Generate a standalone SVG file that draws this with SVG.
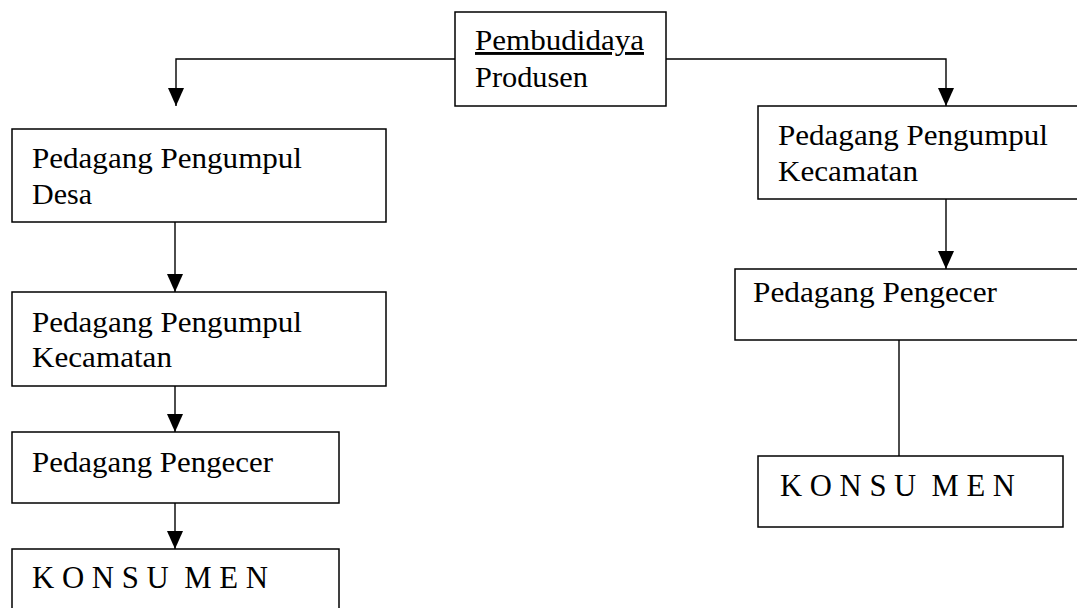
<svg xmlns="http://www.w3.org/2000/svg" width="1077" height="608" viewBox="0 0 1077 608">
<style>
.box{fill:#fff;stroke:#000;stroke-width:1.5}
.t{font-family:"Liberation Serif","Times New Roman",serif;font-size:29px;fill:#000}
.k{font-family:"Liberation Serif","Times New Roman",serif;font-size:31px;fill:#000;white-space:pre}
.c{fill:none;stroke:#000;stroke-width:1.4}
</style>
<defs>
<marker id="arr" viewBox="0 0 18 16" refX="18" refY="8" markerWidth="18" markerHeight="16" markerUnits="userSpaceOnUse" orient="auto">
<path d="M0,0 L18,8 L0,16 z" fill="#000"/>
</marker>
</defs>
<rect width="1077" height="608" fill="#fff"/>
<g id="connectors">
<path class="c" d="M455,59 H176 V106" marker-end="url(#arr)"/>
<path class="c" d="M666,59 H946 V106" marker-end="url(#arr)"/>
<path class="c" d="M175,222 V292" marker-end="url(#arr)"/>
<path class="c" d="M175,386 V432" marker-end="url(#arr)"/>
<path class="c" d="M175,503 V549" marker-end="url(#arr)"/>
<path class="c" d="M946,199 V269" marker-end="url(#arr)"/>
<path class="c" d="M899,340 V456"/>
</g>
<g id="produsen">
<rect class="box" x="455" y="12" width="211" height="94"/>
<text class="t" x="475" y="50" textLength="169" lengthAdjust="spacingAndGlyphs" text-decoration="underline">Pembudidaya</text>
<text class="t" x="475" y="87" textLength="113" lengthAdjust="spacingAndGlyphs">Produsen</text>
</g>
<g id="ppdesa">
<rect class="box" x="12" y="129" width="374" height="93"/>
<text class="t" x="32" y="168" textLength="270" lengthAdjust="spacingAndGlyphs">Pedagang Pengumpul</text>
<text class="t" x="32" y="204" textLength="60" lengthAdjust="spacingAndGlyphs">Desa</text>
</g>
<g id="ppkec-left">
<rect class="box" x="12" y="292" width="374" height="94"/>
<text class="t" x="32" y="332" textLength="270" lengthAdjust="spacingAndGlyphs">Pedagang Pengumpul</text>
<text class="t" x="32" y="367" textLength="140" lengthAdjust="spacingAndGlyphs">Kecamatan</text>
</g>
<g id="pengecer-left">
<rect class="box" x="12" y="432" width="327" height="71"/>
<text class="t" x="32" y="472" textLength="241" lengthAdjust="spacingAndGlyphs">Pedagang Pengecer</text>
</g>
<g id="konsumen-left">
<rect class="box" x="12" y="549" width="327" height="75"/>
<text class="k" x="32" y="588" textLength="236" lengthAdjust="spacingAndGlyphs" xml:space="preserve">K O N S U  M E N</text>
</g>
<g id="ppkec-right">
<rect class="box" x="758" y="106" width="330" height="93"/>
<text class="t" x="778" y="145" textLength="270" lengthAdjust="spacingAndGlyphs">Pedagang Pengumpul</text>
<text class="t" x="778" y="181" textLength="140" lengthAdjust="spacingAndGlyphs">Kecamatan</text>
</g>
<g id="pengecer-right">
<rect class="box" x="735" y="269" width="350" height="71"/>
<text class="t" x="753" y="302" textLength="244" lengthAdjust="spacingAndGlyphs">Pedagang Pengecer</text>
</g>
<g id="konsumen-right">
<rect class="box" x="758" y="456" width="305" height="71"/>
<text class="k" x="780" y="496" textLength="235" lengthAdjust="spacingAndGlyphs" xml:space="preserve">K O N S U  M E N</text>
</g>
</svg>
